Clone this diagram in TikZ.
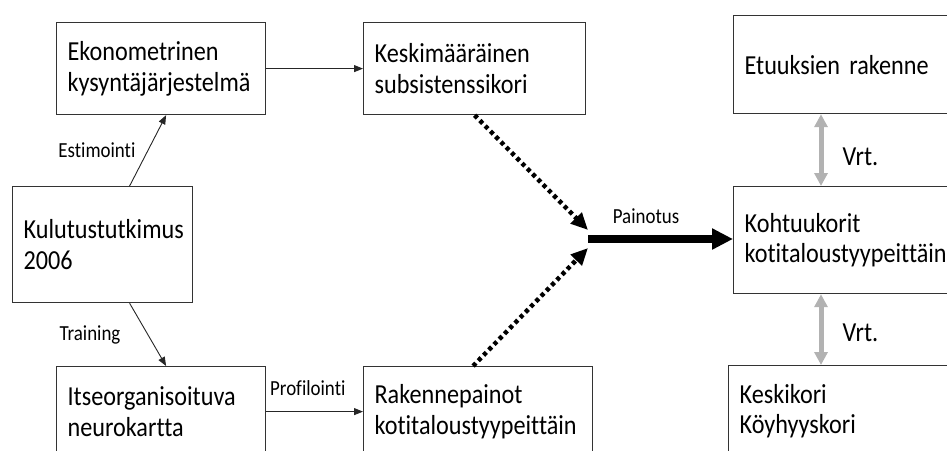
\documentclass[tikz,border=0pt]{standalone}
\usepackage{fontspec}
\setmainfont{Carlito}[FakeStretch=0.88, RawFeature=-liga]
\usetikzlibrary{arrows.meta}
\newcommand\boxfont{\fontsize{27.5}{30.5}\selectfont}
\newcommand\lblfont{\fontsize{21.5}{24}\selectfont}
\definecolor{vrtgray}{gray}{0.7}
\hyphenpenalty=10000
\begin{document}
\begin{tikzpicture}[x=1pt, y=-1pt, >={Triangle[length=9pt,width=7pt]}]
  \tikzset{box/.style={draw=black!80, line width=1.2pt, anchor=north west, align=left, inner xsep=11pt, font=\boxfont},
    lbl/.style={font=\lblfont, inner sep=2pt},
    thin/.style={->, line width=0.9pt, draw=black!85},
    dots/.style={-{Triangle[length=17pt,width=15pt]}, line width=4.5pt, dash pattern=on 4pt off 3.5pt},
    heavy/.style={-{Triangle[length=21pt,width=20pt]}, line width=7.5pt},
    cmp/.style={{Triangle[length=13pt,width=13pt]}-{Triangle[length=13pt,width=13pt]}, line width=5pt, draw=vrtgray, fill=vrtgray}}
  \useasboundingbox (0,0) rectangle (947,450);
  \clip (0,0) rectangle (947,450);
  % laatikot
  \node[box, text width=158pt, minimum height=116pt] (kulutus) at (12,186) {Kulutustutkimus\\2006};
  \node[box, text width=187pt, minimum height=92pt] (ekono) at (56,22) {Ekonometrinen\\kysyntäjärjestelmä};
  \node[box, text width=200pt, minimum height=92pt] (keski) at (363,22) {Keskimääräinen\\subsistenssikori};
  \node[box, text width=187pt, minimum height=90pt] (itse) at (56,366) {Itseorganisoituva\\neurokartta};
  \node[box, text width=207pt, minimum height=90pt] (rakenne) at (363,366) {Rakennepainot\\kotitaloustyypeittäin};
  \node[box, text width=228pt, minimum height=98pt] (etuus) at (733,15) {Etuuksien rakenne};
  \node[box, text width=248pt, minimum height=107pt] (kohtuu) at (733,186) {Kohtuukorit\\kotitaloustyypeittäin};
  \node[box, text width=228pt, minimum height=91pt] (kori) at (728,365) {Keskikori\\Köyhyyskori};
  \coordinate (hub) at (588,239);
  % nuolet
  \draw[thin] (ekono) -- (keski);
  \draw[thin] ([xshift=27pt]kulutus.north) -- node[lbl, left=10pt]{Estimointi} ([xshift=5pt]ekono.south);
  \draw[thin] ([xshift=27pt]kulutus.south) -- node[lbl, left=25pt]{Training} ([xshift=5pt]itse.north);
  \draw[thin] (itse) -- node[lbl, above=13pt, pos=0.43]{Profilointi} (rakenne);
  \draw[dots] (keski.south) -- ([yshift=9pt]hub);
  \draw[dots] ([xshift=-5pt]rakenne.north) -- ([yshift=-9pt]hub);
  \draw[heavy] (hub) -- node[lbl, above=10pt, pos=0.4]{Painotus} (hub -| kohtuu.west);
  \draw[cmp] ([xshift=88pt]etuus.south west) -- node[font=\boxfont, inner sep=2pt, right=17pt, pos=0.6]{Vrt.} ([xshift=88pt]kohtuu.north west);
  \draw[cmp] ([xshift=88pt]kohtuu.south west) -- node[font=\boxfont, inner sep=2pt, right=17pt, pos=0.55]{Vrt.} ([xshift=93pt]kori.north west);
\end{tikzpicture}
\end{document}
